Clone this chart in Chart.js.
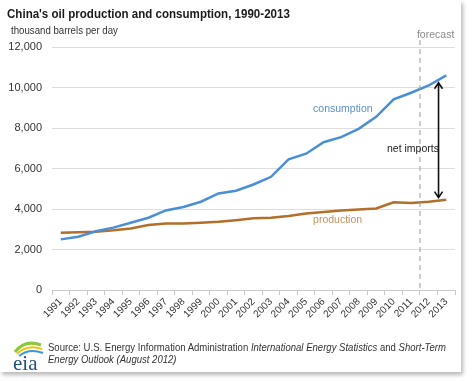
<!DOCTYPE html>
<html>
<head>
<meta charset="utf-8">
<script src="https://cdn.jsdelivr.net/npm/chart.js@4"></script>
<style>
  body { margin: 0; background: #fff; font-family: "Liberation Sans", Arial, sans-serif; }
  #card { position: absolute; left: 0; top: 0; width: 461px; height: 372px; background: #fff;
          box-shadow: 2px 3px 4px rgba(0,0,0,0.28); }
  #wrap { position: absolute; left: 0; top: 0; width: 474px; height: 381px; }
  .title { position: absolute; left: 7px; top: 7px; font-size: 12.5px; font-weight: bold; color: #1a1a1a;
           white-space: nowrap; transform: scaleX(0.925); transform-origin: left top; }
  .unit { position: absolute; left: 11px; top: 24px; font-size: 10.5px; color: #333; white-space: nowrap;
          transform: scaleX(0.92); transform-origin: left top; }
  .source { position: absolute; left: 48px; top: 341px; font-size: 10.8px; color: #333; line-height: 12px;
            white-space: nowrap; transform: scaleX(0.885); transform-origin: left top; }
  .logo { position: absolute; left: 11px; top: 337px; }
</style>
</head>
<body>
<div id="card"></div>
<div id="wrap"><canvas id="oilChart" width="474" height="381"></canvas></div>
<div class="title">China's oil production and consumption, 1990-2013</div>
<div class="unit">thousand barrels per day</div>
<svg class="logo" width="34" height="36" viewBox="0 0 34 36">
  <path d="M4 15 Q14 2 30 8" stroke="#8dc63f" stroke-width="3" fill="none"/>
  <path d="M6 17 Q16 7 31 12" stroke="#f2c500" stroke-width="2" fill="none"/>
  <path d="M8 19 Q18 11 32 16" stroke="#3b9ad9" stroke-width="2" fill="none"/>
  <text x="2" y="33" font-family="Liberation Serif, DejaVu Serif, serif" font-size="21" fill="#24507f">eia</text>
</svg>
<div class="source">Source: U.S. Energy Information Administration <i>International Energy Statistics</i> and <i>Short-Term</i><br><i>Energy Outlook (August 2012)</i></div>
<script>
const years = ['1991', '1992', '1993', '1994', '1995', '1996', '1997', '1998', '1999', '2000', '2001', '2002',
    '2003', '2004', '2005', '2006', '2007', '2008', '2009', '2010', '2011', '2012', '2013'];
const consumption = [2500, 2630, 2900, 3080, 3320, 3570, 3930, 4100, 4360, 4770, 4900, 5210,
    5590, 6450, 6730, 7300, 7550, 7960, 8550, 9410, 9740, 10100, 10600];
const production = [2830, 2850, 2880, 2950, 3040, 3210, 3280, 3280, 3320, 3370, 3450, 3540,
    3570, 3650, 3780, 3850, 3920, 3980, 4030, 4330, 4300, 4360, 4460];
const yTicks = [0, 2000, 4000, 6000, 8000, 10000, 12000];
const forecastStart = 21; // first forecast year index (2012)

// dashed forecast line, arrow and in-chart labels
const annotations = {
    id: 'annotations',
    afterDatasetsDraw(chart) {
        const ctx = chart.ctx;
        const x = chart.scales.x, y = chart.scales.y;
        const area = chart.chartArea;
        ctx.save();

        // forecast divider
        const fx = (x.getPixelForValue(forecastStart - 1) + x.getPixelForValue(forecastStart)) / 2;
        ctx.strokeStyle = '#9a9a9a';
        ctx.lineWidth = 1;
        ctx.setLineDash([5, 4]);
        ctx.beginPath();
        ctx.moveTo(fx, area.top - 7);
        ctx.lineTo(fx, area.bottom);
        ctx.stroke();
        ctx.setLineDash([]);
        ctx.fillStyle = '#8a8a8a';
        ctx.font = '10.5px "Liberation Sans", Arial, sans-serif';
        ctx.textAlign = 'left';
        ctx.textBaseline = 'alphabetic';
        ctx.fillText('forecast', fx - 3, area.top - 9);

        // net imports arrow
        const pos = 21.56;
        const lo = Math.floor(pos), t = pos - lo;
        const cVal = consumption[lo] + (consumption[lo + 1] - consumption[lo]) * t;
        const pVal = production[lo] + (production[lo + 1] - production[lo]) * t;
        const ax = x.getPixelForValue(lo) + (x.getPixelForValue(lo + 1) - x.getPixelForValue(lo)) * t;
        const top = y.getPixelForValue(cVal) + 3, bot = y.getPixelForValue(pVal) - 3;
        ctx.strokeStyle = '#111';
        ctx.lineWidth = 1.6;
        ctx.beginPath();
        ctx.moveTo(ax, top);
        ctx.lineTo(ax, bot);
        ctx.moveTo(ax - 4, top + 6); ctx.lineTo(ax, top); ctx.lineTo(ax + 4, top + 6);
        ctx.moveTo(ax - 4, bot - 6); ctx.lineTo(ax, bot); ctx.lineTo(ax + 4, bot - 6);
        ctx.stroke();

        // series labels
        ctx.textAlign = 'center';
        ctx.textBaseline = 'middle';
        ctx.font = '10.5px "Liberation Sans", Arial, sans-serif';
        ctx.fillStyle = '#5b8ec8';
        ctx.fillText('consumption', x.getPixelForValue(16.1), y.getPixelForValue(8950));
        ctx.fillStyle = '#c4915e';
        ctx.fillText('production', x.getPixelForValue(15.8), y.getPixelForValue(3430));
        ctx.fillStyle = '#222';
        ctx.fillText('net imports', x.getPixelForValue(20.1), y.getPixelForValue(6940));
        ctx.restore();
    }
};

const ctx = document.getElementById('oilChart').getContext('2d');
const oilChart = new Chart(ctx, {
    type: 'line',
    data: {
        labels: years,
        datasets: [{
            label: 'consumption',
            data: consumption,
            borderColor: '#4a8fd6',
            borderWidth: 2.5,
            pointRadius: 0,
            tension: 0
        }, {
            label: 'production',
            data: production,
            borderColor: '#b36e2a',
            borderWidth: 2.5,
            pointRadius: 0,
            tension: 0
        }]
    },
    options: {
        responsive: false,
        animation: false,
        layout: { padding: { top: 47, right: 19, bottom: 51, left: 0 } },
        plugins: {
            legend: { display: false },
            tooltip: { enabled: false }
        },
        scales: {
            x: {
                offset: true,
                grid: { offset: true, drawOnChartArea: false, drawTicks: true, tickLength: 5, color: '#c8c8c8' },
                border: { color: '#c8c8c8' },
                ticks: {
                    autoSkip: false, maxRotation: 45, minRotation: 45, padding: 1,
                    color: '#333', font: { family: '"Liberation Sans", Arial, sans-serif', size: 10 }
                },
                afterFit(scale) { scale.height = 40; }
            },
            y: {
                min: 0,
                max: 12000,
                grid: { color: '#dedede', drawTicks: false },
                border: { display: false },
                afterBuildTicks(scale) { scale.ticks = yTicks.map(v => ({ value: v })); },
                ticks: {
                    padding: 10,
                    color: '#333',
                    font: { family: '"Liberation Sans", Arial, sans-serif', size: 11 },
                    callback: v => v.toLocaleString('en-US')
                },
                afterFit(scale) { scale.width = 52; }
            }
        }
    },
    plugins: [annotations]
});
</script>
</body>
</html>
